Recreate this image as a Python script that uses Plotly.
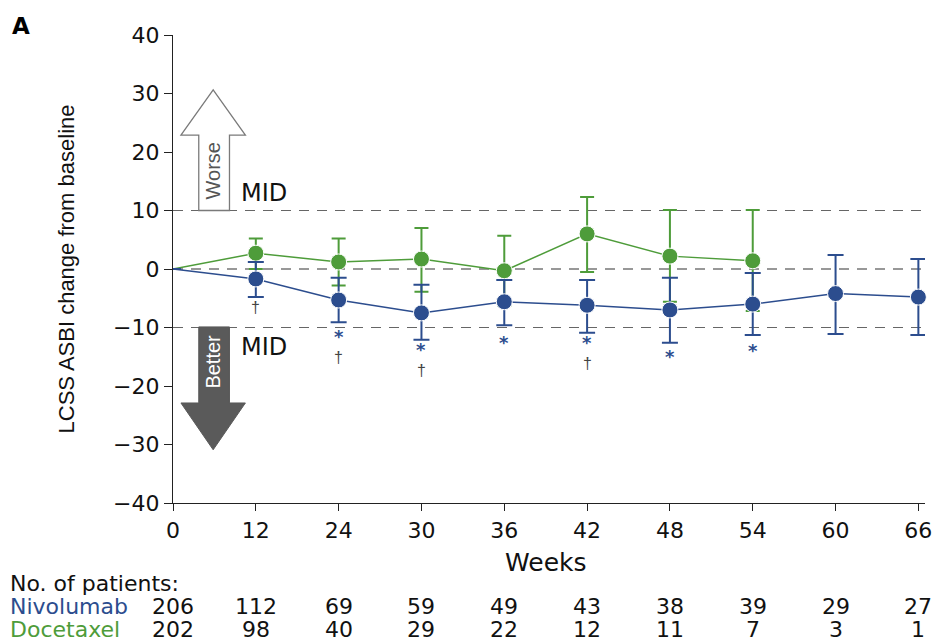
import plotly.graph_objects as go

weeks = ["0", "12", "24", "30", "36", "42", "48", "54", "60", "66"]
xi = list(range(len(weeks)))

nivo_mean = [0, -1.7, -5.3, -7.5, -5.6, -6.2, -7.0, -6.0, -4.2, -4.8]
nivo_hi = [0, 1.2, -1.5, -2.7, -1.9, -1.9, -1.5, -0.7, 2.4, 1.7]
nivo_lo = [0, -4.8, -9.1, -12.1, -9.6, -10.9, -12.6, -11.3, -11.1, -11.3]

doce_mean = [0, 2.7, 1.2, 1.7, -0.3, 6.0, 2.2, 1.4]
doce_hi = [0, 5.2, 5.2, 7.0, 5.7, 12.3, 10.1, 10.1]
doce_lo = [0, 0.0, -2.8, -3.9, -6.3, -0.5, -5.6, -7.2]

nivo_n = [206, 112, 69, 59, 49, 43, 38, 39, 29, 27]
doce_n = [202, 98, 40, 29, 22, 12, 11, 7, 3, 1]

# significance marks: (week index, y)
stars = [(2, -11.6), (3, -13.8), (4, -12.6), (5, -12.6), (6, -15.0), (7, -13.9)]
daggers = [(1, -6.5), (2, -15.2), (3, -17.4), (5, -16.2)]

BLUE = "#2c4d8e"
GREEN = "#4e9c3a"
DAG = "#444444"
FONT = "DejaVu Sans"
NARROW = "Liberation Sans"
L = 173   # left margin px
B = 503   # x-axis pixel row

fig = go.Figure()

# reference dashed lines
for yv, col in [(10, "#666"), (0, "#333"), (-10, "#666")]:
    fig.add_shape(type="line", xref="x", yref="y", x0=0, x1=9.05, y0=yv, y1=yv,
                  line=dict(color=col, width=1.2, dash="10px,8px"), layer="below")

def err(mean, hi, lo, color, w):
    return dict(type="data", symmetric=False,
                array=[h - m for h, m in zip(hi, mean)],
                arrayminus=[m - l for m, l in zip(mean, lo)],
                thickness=2, width=w, color=color)

fig.add_trace(go.Scatter(
    x=xi[:len(doce_mean)], y=doce_mean, mode="lines+markers",
    line=dict(color=GREEN, width=1.5),
    marker=dict(color=GREEN, opacity=1, size=[0] + [16] * (len(doce_mean) - 1)),
    error_y=err(doce_mean, doce_hi, doce_lo, GREEN, 7),
    cliponaxis=False, showlegend=False))

fig.add_trace(go.Scatter(
    x=xi, y=nivo_mean, mode="lines+markers",
    line=dict(color=BLUE, width=1.5),
    marker=dict(color=BLUE, opacity=1, size=[0] + [16] * (len(nivo_mean) - 1)),
    error_y=err(nivo_mean, nivo_hi, nivo_lo, BLUE, 8),
    cliponaxis=False, showlegend=False))

# arrows
ax0, axs0, axs1, ax1 = 0.096, 0.311, 0.682, 0.874
worse = f"M {axs0},10 L {axs0},22.9 L {ax0},22.9 L 0.485,30.6 L {ax1},22.9 L {axs1},22.9 L {axs1},10 Z"
better = f"M {axs0},-9.9 L {axs0},-22.9 L {ax0},-22.9 L 0.485,-30.9 L {ax1},-22.9 L {axs1},-22.9 L {axs1},-9.9 Z"
fig.add_shape(type="path", xref="x", yref="y", path=worse,
              line=dict(color="#7a7a7a", width=1.3), fillcolor="white")
fig.add_shape(type="path", xref="x", yref="y", path=better,
              line=dict(color="#5a5a5a", width=1), fillcolor="#5a5a5a")

annos = []
annos.append(dict(x=0.485, y=16.7, xref="x", yref="y", text="Worse", textangle=-90,
                  showarrow=False, font=dict(family=NARROW, size=20, color="#555")))
annos.append(dict(x=0.485, y=-15.8, xref="x", yref="y", text="Better", textangle=-90,
                  showarrow=False, font=dict(family=NARROW, size=20, color="white")))
annos.append(dict(x=0.8, y=10.3, xref="x", yref="y", text="MID", xanchor="left", yanchor="bottom",
                  showarrow=False, font=dict(family=FONT, size=24, color="#111")))
annos.append(dict(x=0.8, y=-10.6, xref="x", yref="y", text="MID", xanchor="left", yanchor="top",
                  showarrow=False, font=dict(family=FONT, size=24, color="#111")))

for i, yv in stars:
    annos.append(dict(x=i, y=yv, xref="x", yref="y", text="<b>*</b>", showarrow=False,
                      font=dict(family=FONT, size=18, color=BLUE), yanchor="middle"))
for i, yv in daggers:
    annos.append(dict(x=i, y=yv, xref="x", yref="y", text="†", showarrow=False,
                      font=dict(family=NARROW, size=16, color=DAG), yanchor="middle"))

# panel label
annos.append(dict(x=0, y=1, xref="paper", yref="paper", xshift=10 - L, yshift=35 - 26,
                  xanchor="left", yanchor="middle", text="<b>A</b>", showarrow=False,
                  font=dict(family=FONT, size=23, color="black")))

# Weeks title and patient table
def row(text, xref, x, xshift, py, color, size=22, xanchor="center"):
    return dict(x=x, xref=xref, xshift=xshift, y=0, yref="paper", yshift=-(py - B),
                yanchor="middle", xanchor=xanchor, text=text, showarrow=False,
                font=dict(family=FONT, size=size, color=color))

annos.append(row("Weeks", "x", 4.5, 0, 562, "#111", size=25))
annos.append(row("No. of patients:", "paper", 0, 8 - L, 583, "#111", xanchor="left"))
annos.append(row("Nivolumab", "paper", 0, 8 - L, 606, BLUE, xanchor="left"))
annos.append(row("Docetaxel", "paper", 0, 8 - L, 629, GREEN, xanchor="left"))
for i, (a, b) in enumerate(zip(nivo_n, doce_n)):
    annos.append(row(str(a), "x", i, 0, 606, "#111"))
    annos.append(row(str(b), "x", i, 0, 629, "#111"))

fig.update_layout(
    width=942, height=643,
    margin=dict(l=L, r=10, t=35, b=140),
    plot_bgcolor="white", paper_bgcolor="white",
    font=dict(family=FONT, size=22, color="#111"),
    annotations=annos,
    xaxis=dict(range=[0, 9.08], tickmode="array", tickvals=xi, ticktext=weeks,
               showline=True, linecolor="#222", linewidth=1.3, ticks="outside", ticklen=7,
               tickcolor="#222", showgrid=False, zeroline=False, tickfont=dict(size=22)),
    yaxis=dict(range=[-40, 40], tickvals=[-40, -30, -20, -10, 0, 10, 20, 30, 40],
               ticktext=["−40", "−30", "−20", "−10", "0", "10", "20", "30", "40"],
               showline=True, linecolor="#222", linewidth=1.3, ticks="outside", ticklen=8,
               tickcolor="#222", showgrid=False, zeroline=False, tickfont=dict(size=22),
               title=dict(text="LCSS ASBI change from baseline",
                          font=dict(family=NARROW, size=22), standoff=32)),
)

fig.write_html("out.html")
